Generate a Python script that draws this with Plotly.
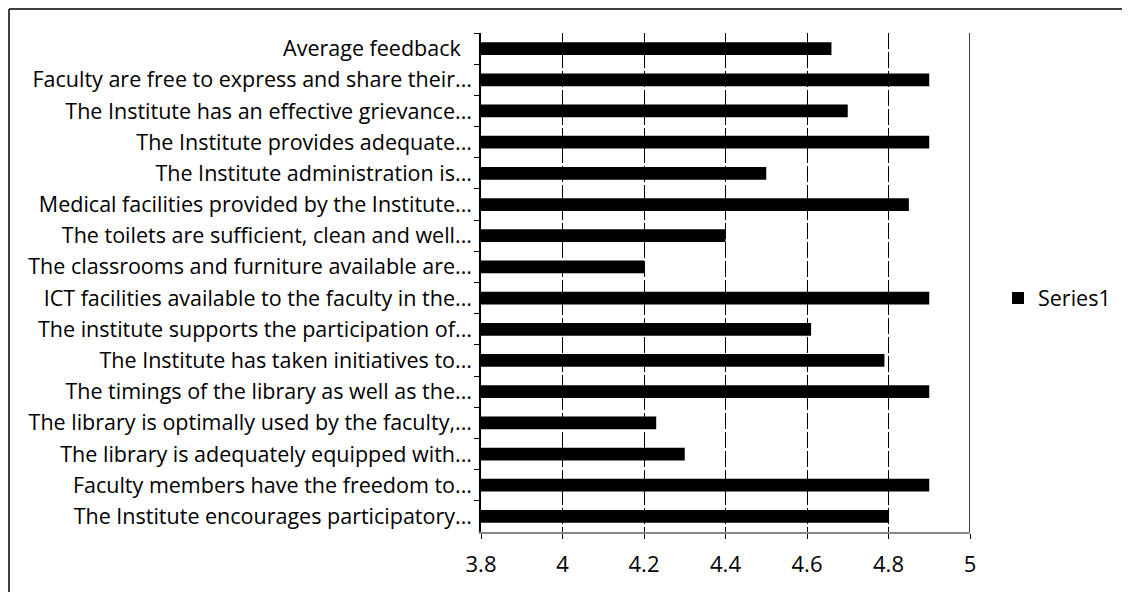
import plotly.graph_objects as go

categories = [
    "Average feedback\u00a0\u00a0",
    "Faculty are free to express and share their...",
    "The Institute has an effective grievance...",
    "The Institute provides adequate...",
    "The Institute administration is...",
    "Medical facilities provided by the Institute...",
    "The toilets are sufficient, clean and well...",
    "The classrooms and furniture available are...",
    "ICT facilities available to the faculty in the...",
    "The institute supports the participation of...",
    "The Institute has taken initiatives to...",
    "The timings of the library as well as the...",
    "The library is optimally used by the faculty,...",
    "The library is adequately equipped with...",
    "Faculty members have the freedom to...",
    "The Institute encourages participatory...",
]
values = [4.66, 4.9, 4.7, 4.9, 4.5, 4.85, 4.4, 4.2, 4.9, 4.61, 4.79, 4.9, 4.23, 4.3, 4.9, 4.8]
x_ticks = [3.8, 4.0, 4.2, 4.4, 4.6, 4.8, 5.0]
x_tick_labels = ["3.8", "4", "4.2", "4.4", "4.6", "4.8", "5"]

FONT = "Open Sans"
W, H = 1122, 584
L, R, T, B = 473, 160, 25, 60
PW, PH = W - L - R, H - T - B


def px(xf):
    return (xf - L) / PW


def py(yf):
    return (H - B - yf) / PH


fig = go.Figure()
fig.add_trace(go.Bar(
    x=values, y=categories, orientation="h", name="Series1",
    marker=dict(color="#000000", line=dict(width=0)),
    showlegend=True,
))

fig.update_layout(
    width=W, height=H,
    margin=dict(l=L, r=R, t=T, b=B),
    paper_bgcolor="white", plot_bgcolor="white",
    bargap=0.59,
    font=dict(family=FONT, size=21.5, color="#000000"),
    showlegend=True,
    legend=dict(x=px(990), y=0.469, xanchor="left", yanchor="middle",
                font=dict(family=FONT, size=21.5, color="#000000"),
                bgcolor="rgba(0,0,0,0)", itemwidth=30),
    xaxis=dict(
        range=[3.8, 5.0], tickvals=x_ticks, ticktext=x_tick_labels,
        showgrid=True, gridcolor="#000000", gridwidth=1.2, griddash="16px,3px",
        showline=True, linecolor="#888888", linewidth=1.5,
        ticks="outside", ticklen=5, tickcolor="#000000",
        ticklabelstandoff=7,
        zeroline=False, tickfont=dict(family=FONT, size=22, color="#000000"),
    ),
    yaxis=dict(
        autorange="reversed", type="category",
        showline=True, linecolor="#000000", linewidth=1.5,
        ticks="outside", ticklen=5, tickcolor="#000000", tickson="boundaries",
        ticklabelstandoff=3,
        showgrid=False, tickfont=dict(family=FONT, size=21.5, color="#000000"),
    ),
    shapes=[
        dict(type="line", xref="paper", yref="paper", x0=px(1), x1=px(1),
             y0=py(1), y1=py(H + 5), line=dict(color="#000000", width=1.5)),
        dict(type="line", xref="paper", yref="paper", x0=px(1), x1=px(W + 5),
             y0=py(1), y1=py(1), line=dict(color="#000000", width=1.5)),
        dict(type="line", xref="x", yref="paper", x0=5.0, x1=5.0, y0=0, y1=1,
             line=dict(color="#000000", width=1.5)),
    ],
)

fig.write_html("out.html")
